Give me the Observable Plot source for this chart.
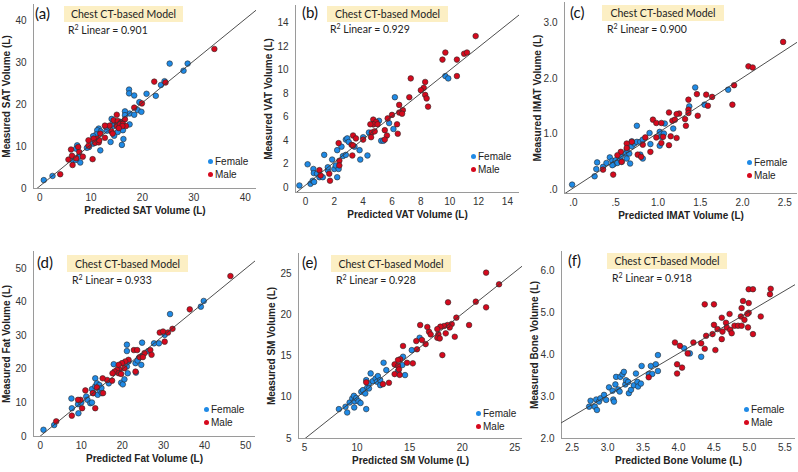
<!DOCTYPE html>
<html><head><meta charset="utf-8">
<script src="https://cdn.jsdelivr.net/npm/d3@7"></script>
<script src="https://cdn.jsdelivr.net/npm/@observablehq/plot@0.6"></script>
<style>
body{margin:0;background:#fff;}
#wrap{position:relative;width:798px;height:472px;overflow:hidden;background:#fff;}
.panel{position:absolute;width:266px;height:236px;}
.panel svg{position:absolute;left:0;top:0;}
.tag{position:absolute;font-family:Lato,"Open Sans",sans-serif;font-size:15px;color:#111;line-height:1;}
.box{position:absolute;background:#fcefc4;font-family:Lato,"Open Sans",sans-serif;font-size:10.5px;color:#222;display:flex;align-items:center;justify-content:center;white-space:nowrap;}
.r2{position:absolute;font-family:Lato,"Open Sans",sans-serif;font-size:10.5px;color:#222;white-space:nowrap;line-height:1;}
.r2 sup{font-size:7px;vertical-align:4px;line-height:0;}
.leg{position:absolute;font-family:"Liberation Sans",Arial,sans-serif;font-size:10px;color:#222;white-space:nowrap;line-height:1;}
.leg i{display:inline-block;width:5px;height:5px;border-radius:50%;margin-right:2px;vertical-align:1px;}
</style></head><body><div id="wrap"></div>
<script>
// ---------- data (predicted, measured) ----------
const satFemale = [[0.8,2.0],[2.5,3.0],[25.3,29.8],[28.8,29.8],[28.0,28.1],[23.6,24.7],[24.3,25.6],[20.8,22.6],[22.6,22.1],[17.4,23.6],[17.4,22.7],[18.4,22.2],[19.4,20.6],[19.1,18.7],[19.8,18.3],[17.5,17.9],[18.4,17.6],[16.6,18.4],[17.5,15.3],[16.2,13.9],[16.3,11.8],[16.0,10.4],[14.0,16.6],[14.3,15.7],[14.4,14.9],[14.5,12.6],[13.8,11.1],[13.1,13.8],[12.9,14.7],[11.5,14.3],[11.2,13.9],[11.9,13.6],[11.0,12.9],[10.4,12.5],[11.8,9.1],[10.4,10.7],[9.6,9.9],[11.0,11.5],[7.3,10.3],[7.1,9.5],[7.6,7.6],[7.9,6.2],[6.4,6.8],[7.0,6.8],[9.2,9.7],[15.7,15.9],[16.6,17.5],[15.2,13.5]];
const satMale = [[34.0,33.3],[22.3,25.5],[24.5,25.3],[19.9,20.3],[18.4,19.3],[16.6,16.5],[15.0,17.6],[14.4,16.3],[15.2,16.1],[15.8,15.7],[13.6,15.0],[12.7,15.0],[15.0,15.0],[15.6,15.4],[16.2,15.4],[16.8,14.9],[16.1,14.9],[15.4,14.4],[14.0,13.6],[14.2,13.1],[11.8,13.1],[12.7,12.1],[11.2,11.9],[10.5,11.9],[10.8,10.9],[11.5,11.0],[11.6,11.5],[9.5,10.2],[9.5,11.5],[7.5,9.9],[7.7,8.7],[6.1,9.3],[8.4,7.6],[5.6,6.9],[6.4,5.6],[6.3,7.8],[10.3,7.0],[4.0,3.4],[7.1,7.2]];
const vatFemale = [[-0.42,0.2],[0.35,0.34],[0.5,0.6],[0.6,0.5],[0.55,1.6],[0.15,2.0],[0.58,1.25],[0.8,1.2],[0.97,0.9],[1.2,0.9],[1.3,2.8],[1.55,1.5],[1.55,1.75],[1.85,2.4],[2.0,1.6],[2.1,1.9],[2.2,0.9],[2.2,3.2],[2.3,1.6],[2.5,3.5],[2.8,4.1],[2.9,4.2],[3.0,3.9],[2.6,2.7],[2.8,2.8],[3.75,3.2],[3.8,2.4],[3.4,3.5],[4.0,4.3],[4.3,2.75],[4.4,4.7],[5.1,5.7],[5.25,4.0],[5.4,4.0],[5.8,5.5],[6.1,5.0],[6.2,7.7],[9.7,9.5],[9.9,9.3],[4.7,5.4]];
const vatMale = [[11.8,12.9],[9.7,11.5],[9.5,10.9],[10.5,10.9],[11.0,11.4],[11.2,11.5],[10.5,9.5],[7.3,9.3],[8.3,9.0],[8.2,8.5],[8.0,8.3],[8.3,7.9],[8.4,7.6],[8.5,6.9],[7.2,7.7],[6.5,7.05],[6.75,6.6],[6.5,6.4],[6.7,6.3],[6.0,6.2],[5.7,5.9],[6.35,5.4],[5.5,4.9],[5.65,4.45],[5.5,4.1],[4.7,5.8],[4.9,5.6],[4.7,5.4],[4.5,5.4],[5.0,5.4],[4.6,4.7],[4.8,4.8],[4.55,4.3],[4.0,4.1],[3.3,4.45],[3.5,4.2],[3.2,3.65],[3.3,3.6],[3.25,2.75],[2.3,3.8],[2.35,2.3],[2.35,1.9],[0.97,1.5],[1.05,1.05],[1.65,1.2],[1.7,0.6],[6.4,4.6]];
const imatFemale = [[-0.016,0.09],[0.25,0.24],[0.28,0.49],[0.27,0.37],[0.35,0.41],[0.39,0.48],[0.43,0.58],[0.46,0.52],[0.48,0.46],[0.5,0.53],[0.52,0.48],[0.55,0.56],[0.57,0.5],[0.56,0.6],[0.62,0.65],[0.63,0.56],[0.66,0.65],[0.67,0.47],[0.63,0.72],[0.69,0.78],[0.72,0.83],[0.75,0.86],[0.79,0.86],[0.82,0.9],[0.75,1.15],[0.79,0.63],[0.82,0.56],[0.9,1.02],[0.91,0.82],[1.02,1.04],[1.04,0.95],[1.02,0.79],[1.07,1.01],[1.08,1.19],[1.18,1.1],[1.37,1.5],[1.44,1.84],[1.55,1.53],[1.83,1.8],[0.69,0.87],[0.46,0.44]];
const imatMale = [[2.48,2.66],[2.07,2.22],[2.12,2.2],[1.9,1.88],[1.88,1.53],[1.64,1.67],[1.57,1.71],[1.59,1.51],[1.46,1.72],[1.36,1.62],[1.36,1.44],[1.36,1.38],[1.47,1.33],[1.32,1.27],[1.33,1.15],[1.25,1.37],[1.22,1.36],[1.13,1.39],[1.17,1.24],[1.2,1.26],[0.94,1.26],[0.98,1.2],[1.04,1.2],[1.06,0.95],[1.04,0.84],[1.15,0.96],[1.13,0.8],[1.22,0.93],[0.98,0.94],[0.85,0.94],[0.82,0.81],[0.91,0.68],[0.76,0.63],[0.8,0.59],[0.69,0.86],[0.63,0.83],[0.63,0.75],[0.56,0.68],[0.52,0.62],[0.57,0.5],[0.47,0.27],[0.35,0.36]];
const fatFemale = [[0.8,2.0],[3.4,3.4],[7.6,11.3],[7.7,8.4],[9.3,6.9],[9.2,9.6],[10.0,10.1],[11.2,11.9],[11.5,10.9],[12.2,9.9],[12.6,10.1],[12.6,14.1],[13.0,12.9],[13.4,14.9],[13.4,17.3],[13.8,15.8],[14.0,12.4],[14.4,15.3],[14.6,13.6],[14.9,14.4],[15.0,12.9],[16.7,15.8],[17.9,21.5],[19.7,16.0],[20.1,15.5],[20.5,17.0],[21.1,27.3],[21.1,25.4],[21.1,20.8],[21.3,18.8],[21.5,22.3],[23.2,21.8],[23.3,19.0],[24.8,27.9],[24.8,24.0],[24.6,21.3],[24.0,23.3],[23.7,22.6],[26.3,25.4],[27.7,27.7],[28.9,27.7],[30.3,30.2],[31.6,36.4],[39.1,38.6],[39.8,40.3]];
const fatMale = [[46.3,47.7],[36.4,37.8],[32.2,32.0],[31.1,30.9],[29.1,30.9],[29.9,31.2],[30.3,28.2],[26.8,25.7],[27.1,24.3],[25.4,24.8],[22.8,25.7],[23.6,25.7],[24.2,23.6],[25.0,23.6],[23.2,19.3],[21.5,22.8],[20.7,22.3],[19.9,21.8],[19.1,21.3],[20.5,20.3],[19.3,19.8],[18.7,19.8],[18.1,19.3],[19.1,18.8],[19.7,18.6],[17.6,18.8],[16.3,16.8],[17.5,16.6],[15.2,17.3],[15.3,12.9],[13.4,8.4],[12.8,12.9],[13.8,14.6],[11.0,13.7],[9.8,10.9],[9.2,10.9],[10.2,8.4],[7.7,6.2],[3.9,4.5]];
const smFemale = [[8.27,8.56],[9.06,8.15],[8.9,8.84],[9.29,9.36],[9.54,9.85],[9.7,10.17],[9.76,9.5],[9.92,9.9],[10.14,9.5],[10.33,9.3],[9.73,8.76],[10.87,8.56],[10.4,10.66],[10.56,10.86],[10.78,10.45],[10.97,11.18],[10.87,12.07],[11.13,11.67],[11.13,11.06],[11.29,12.88],[11.5,11.95],[11.76,12.27],[11.9,11.87],[11.98,12.56],[12.2,11.46],[12.2,12.07],[12.52,14.17],[12.78,13.28],[13.89,13.16],[14.3,13.89],[14.37,14.9],[14.56,12.68],[15.2,15.7],[15.95,17.2]];
const smMale = [[22.27,25.08],[23.5,23.67],[21.29,21.57],[22.27,20.88],[18.65,21.49],[19.44,19.63],[19.0,18.86],[18.81,18.45],[18.59,18.74],[18.27,18.62],[17.92,18.54],[17.63,18.25],[18.43,17.73],[17.73,17.61],[17.63,17.2],[17.86,17.12],[19.29,17.32],[18.11,15.1],[20.65,18.74],[16.84,17.93],[17.0,17.6],[16.68,18.5],[16.52,16.43],[16.17,16.92],[15.63,16.8],[16.0,18.74],[15.7,15.8],[14.37,16.2],[15.3,14.1],[14.75,14.17],[14.1,14.6],[13.89,14.5],[13.57,13.97],[13.89,13.77],[13.98,13.36],[13.57,12.8],[14.05,12.7],[13.03,11.75],[12.46,11.58],[10.87,11.8]];
const boneFemale = [[2.74,2.76],[2.76,2.9],[2.82,2.76],[2.84,2.93],[2.85,2.68],[2.88,2.88],[2.9,2.96],[2.95,3.04],[2.98,2.92],[3.02,3.22],[3.07,3.14],[3.08,2.93],[3.09,2.88],[3.11,3.29],[3.12,3.47],[3.15,3.17],[3.17,3.12],[3.18,3.47],[3.21,3.53],[3.23,3.59],[3.25,3.29],[3.26,3.39],[3.29,3.35],[3.3,3.08],[3.33,3.16],[3.37,3.27],[3.4,3.55],[3.42,3.35],[3.43,3.24],[3.47,3.31],[3.48,3.73],[3.58,3.54],[3.61,3.73],[3.63,3.54],[3.68,3.77],[3.71,3.99],[3.71,3.61],[4.08,4.15],[4.16,4.03],[4.32,3.95]];
const boneMale = [[5.3,5.57],[5.29,5.44],[4.99,5.56],[5.05,5.56],[4.91,5.28],[4.99,5.23],[4.89,5.11],[4.99,5.0],[4.97,4.97],[4.88,4.91],[4.93,4.83],[5.16,4.91],[4.72,4.97],[4.61,4.88],[4.67,4.76],[4.5,4.71],[4.55,4.61],[4.62,4.55],[4.68,4.65],[4.73,4.59],[4.75,4.51],[4.79,4.69],[4.84,4.69],[4.89,4.69],[4.98,4.65],[5.05,4.49],[4.61,4.37],[4.48,4.49],[4.39,4.45],[4.37,5.2],[4.5,5.2],[4.52,4.11],[4.37,4.14],[4.32,4.27],[4.21,4.29],[4.13,4.03],[4.02,4.21],[3.95,4.29],[3.98,3.77],[3.98,3.55],[4.05,3.69],[3.58,3.46]];

const panelTags = ["(a)","(b)","(c)","(d)","(e)","(f)"];
const tissues = ["SAT","VAT","IMAT","Fat","SM","Bone"];
const r2Values = ["0.901","0.929","0.900","0.933","0.928","0.918"];
const modelLabel = "Chest CT-based Model";
const sexes = ["Female","Male"];
const sexColors = ["#1f8ae6","#d6091d"];

const xTickValues = [[0,10,20,30,40],[0,2,4,6,8,10,12,14],[0,0.5,1,1.5,2,2.5],[0,10,20,30,40,50],[5,10,15,20,25],[2.5,3,3.5,4,4.5,5,5.5]];
const xTickLabels = [["0","10","20","30","40"],["0","2","4","6","8","10","12","14"],[".0",".5","1.0","1.5","2.0","2.5"],["0","10","20","30","40","50"],["5","10","15","20","25"],["2.5","3.0","3.5","4.0","4.5","5.0","5.5"]];
const yTickValues = [[0,10,20,30,40],[0,2,4,6,8,10,12,14],[0,1,2,3],[0,10,20,30,40,50],[5,10,15,20,25],[2,3,4,5,6]];
const yTickLabels = [["0","10","20","30","40"],["0","2","4","6","8","10","12","14"],[".0","1.0","2.0","3.0"],["0","10","20","30","40","50"],["5","10","15","20","25"],["2.0","3.0","4.0","5.0","6.0"]];

const females = [satFemale, vatFemale, imatFemale, fatFemale, smFemale, boneFemale];
const males = [satMale, vatMale, imatMale, fatMale, smMale, boneMale];

// ---------- layout (not data) ----------
const layout = [
  {ox:0,oy:0,  mL:33,mR:10,mT:4, mB:48, xd:[-1.2,42.2], yd:[0,43.9],  tag:[35,6], box:[64,6,119,16], r2:[68,25], leg:[208,157]},
  {ox:266,oy:0,mL:29,mR:13,mT:5, mB:44, xd:[-0.69,14.84], yd:[-0.4,15.5], tag:[36,5], box:[61,6,121,16], r2:[64,24], leg:[205,152]},
  {ox:532,oy:0,mL:32,mR:1, mT:2, mB:43, xd:[-0.106,2.65], yd:[-0.07,3.37], tag:[38,5], box:[70,5,122,16], r2:[75,24], leg:[215,158]},
  {ox:0,oy:236,mL:33,mR:11,mT:15,mB:36, xd:[-1.63,52.4], yd:[0,55],  tag:[37,19], box:[67,19,121,17], r2:[72,39], leg:[204,169]},
  {ox:266,oy:236,mL:32,mR:10,mT:17,mB:34, xd:[4.43,25.73], yd:[5,27.4], tag:[36,19], box:[65,19,120,17], r2:[70,39], leg:[210,173]},
  {ox:532,oy:236,mL:29,mR:3,mT:15,mB:34, xd:[2.35,5.65], yd:[2,6.46], tag:[36,17], box:[75,17,120,16], r2:[80,37], leg:[212,169]}
];

const wrap = document.getElementById("wrap");

layout.forEach((L, i) => {
  const pts = [
    ...females[i].map(([x,y]) => ({x, y, sex: sexes[0]})),
    ...males[i].map(([x,y]) => ({x, y, sex: sexes[1]}))
  ];
  // least-squares fit of measured on predicted
  const mx = d3.mean(pts, d => d.x), my = d3.mean(pts, d => d.y);
  const b = d3.sum(pts, d => (d.x-mx)*(d.y-my)) / d3.sum(pts, d => (d.x-mx)**2);
  const a = my - b*mx;
  const fit = L.xd.map(x => ({x, y: a + b*x}));
  const xFmt = new Map(xTickValues[i].map((v,k) => [v, xTickLabels[i][k]]));
  const yFmt = new Map(yTickValues[i].map((v,k) => [v, yTickLabels[i][k]]));

  const svg = Plot.plot({
    width: 266, height: 236,
    marginLeft: L.mL, marginRight: L.mR, marginTop: L.mT, marginBottom: L.mB,
    style: {fontFamily: "'Liberation Sans', Arial, sans-serif", fontSize: "10px", color: "#333", background: "transparent", overflow: "visible"},
    x: {domain: L.xd},
    y: {domain: L.yd},
    color: {domain: sexes, range: sexColors},
    marks: [
      Plot.axisX({ticks: xTickValues[i], tickFormat: d => xFmt.get(d), tickSize: 0, tickPadding: 5, label: null, fill: "#333"}),
      Plot.axisY({ticks: yTickValues[i], tickFormat: d => yFmt.get(d), tickSize: 0, tickPadding: 7, label: null, fill: "#333"}),
      Plot.ruleX([L.xd[0]], {stroke: "#9a9a9a", strokeWidth: 1}),
      Plot.ruleY([L.yd[0]], {stroke: "#9a9a9a", strokeWidth: 1}),
      Plot.dot(pts, {x: "x", y: "y", fill: "sex", stroke: "#2a2a2a", strokeWidth: 0.6, r: 2.8}),
      Plot.line(fit, {x: "x", y: "y", stroke: "#3a3a3a", strokeWidth: 0.9, clip: true}),
      Plot.text([`Predicted ${tissues[i]} Volume (L)`], {frameAnchor: "bottom", textAnchor: "middle", dy: 25, fontWeight: "bold", fontSize: 10, fill: "#222"}),
      Plot.text([`Measured ${tissues[i]} Volume (L)`], {frameAnchor: "left", textAnchor: "middle", dx: -27, rotate: -90, fontWeight: "bold", fontSize: 10, fill: "#222"})
    ]
  });

  const div = document.createElement("div");
  div.className = "panel";
  div.style.left = L.ox + "px"; div.style.top = L.oy + "px";
  div.appendChild(svg);

  const tag = document.createElement("div");
  tag.className = "tag"; tag.textContent = panelTags[i];
  tag.style.left = L.tag[0] + "px"; tag.style.top = L.tag[1] + "px";
  div.appendChild(tag);

  const box = document.createElement("div");
  box.className = "box"; box.textContent = modelLabel;
  box.style.left = L.box[0] + "px"; box.style.top = L.box[1] + "px";
  box.style.width = L.box[2] + "px"; box.style.height = L.box[3] + "px";
  div.appendChild(box);

  const r2 = document.createElement("div");
  r2.className = "r2"; r2.innerHTML = `R<sup>2</sup> Linear = ${r2Values[i]}`;
  r2.style.left = L.r2[0] + "px"; r2.style.top = L.r2[1] + "px";
  div.appendChild(r2);

  sexes.forEach((s, k) => {
    const lg = document.createElement("div");
    lg.className = "leg";
    lg.innerHTML = `<i style="background:${sexColors[k]}"></i>${s}`;
    lg.style.left = L.leg[0] + "px"; lg.style.top = (L.leg[1] + k*13) + "px";
    div.appendChild(lg);
  });

  wrap.appendChild(div);
});
</script>
</body></html>
